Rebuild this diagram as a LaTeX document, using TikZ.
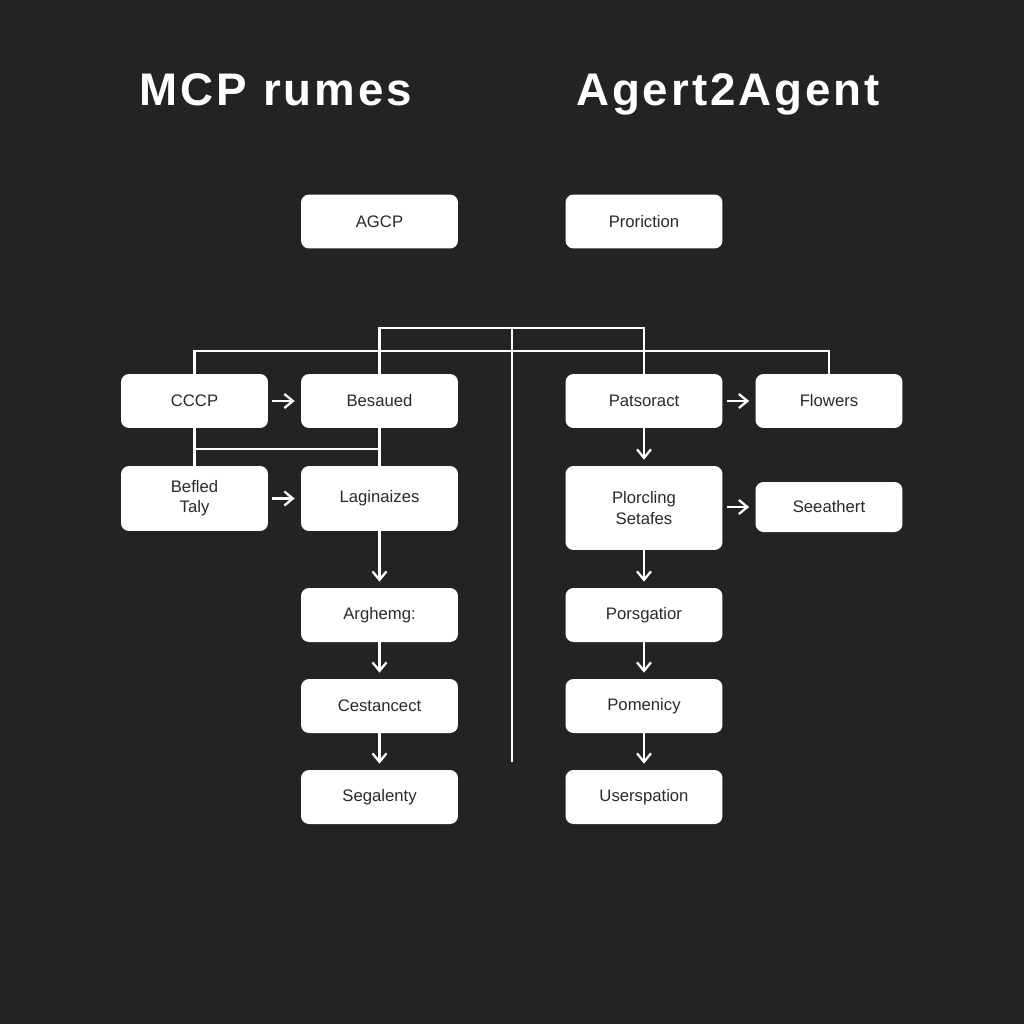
\documentclass[tikz,border=0pt]{standalone}
\usepackage{fontspec}
\setmainfont{Liberation Sans}
\usetikzlibrary{arrows.meta}

\definecolor{boardbg}{HTML}{232323}
\definecolor{boxtext}{HTML}{2A2A2A}

\tikzset{
  box/.style={draw=none,fill=white,rounded corners=1.6mm,text=boxtext,
    minimum width=3.14cm,minimum height=1.08cm,align=center,
    font=\fontsize{9.5}{11.5}\selectfont,inner sep=0pt},
  narrowbox/.style={box,minimum width=2.94cm},
  title/.style={anchor=base,text=white,
    font=\fontsize{26}{30}\selectfont\bfseries\addfontfeature{LetterSpace=6.5}},
  wire/.style={draw=white,line width=1.3pt},
  link/.style={wire,->,shorten >=1.2mm},
  sidelink/.style={link,shorten <=0.8mm},
}

\begin{document}
\begin{tikzpicture}[x=0.02cm,y=-0.02cm,>={Straight Barb[length=1.7mm,width=2.8mm]}]
    \useasboundingbox [fill=boardbg] (0,0) rectangle (1024,1024);

    \path (276,106) node [title] (mcptitle) {MCP rumes};
    \path (728,106) node [title] (a2atitle) {Agert2Agent};

    \path (379.5,221.5) node [box] (agcp) {AGCP};
    \path (644,221.5) node [box] (proriction) {Proriction};

    \path (194.5,401) node [narrowbox] (cccp) {CCCP};
    \path (379.5,401) node [box] (besaued) {Besaued};
    \path (194.5,498.5) node [narrowbox,minimum height=1.3cm] (befled) {Befled\\Taly};
    \path (379.5,498.5) node [box,minimum height=1.3cm] (laginaizes) {Laginaizes};
    \path (379.5,615) node [box] (arghemg) {Arghemg:};
    \path (379.5,706) node [box] (cestancect) {Cestancect};
    \path (379.5,797) node [box] (segalenty) {Segalenty};

    \path (644,401) node [box] (patsoract) {Patsoract};
    \path (829,401) node [narrowbox] (flowers) {Flowers};
    \path (644,508) node [box,minimum height=1.68cm] (plorcling) {Plorcling\\Setafes};
    \path (829,507) node [narrowbox,minimum height=1.0cm] (seeathert) {Seeathert};
    \path (644,615) node [box] (porsgatior) {Porsgatior};
    \path (644,706) node [box] (pomenicy) {Pomenicy};
    \path (644,797) node [box] (userspation) {Userspation};

    % centre spine and the two feeder lines
    \coordinate (hubtop) at (512,328);
    \coordinate (hubmid) at (512,351);
    \coordinate (hubend) at (512,762);
    \coordinate (junction) at (379.5,449);
    \draw [wire] (hubtop) -- (hubend);
    \draw [wire] (besaued.north) |- (hubtop) -| (patsoract.north);
    \draw [wire] (cccp.north) |- (hubmid) -| (flowers.north);
    \draw [wire] (cccp.south) -- (befled.north);
    \draw [wire] (besaued.south) -- (laginaizes.north);
    \draw [wire] (cccp.south |- junction) -- (junction);

    \draw [sidelink] (cccp) -- (besaued);
    \draw [sidelink] (befled) -- (laginaizes);
    \draw [sidelink] (patsoract) -- (flowers);
    \draw [sidelink] (plorcling.east |- seeathert) -- (seeathert);

    \draw [link] (laginaizes) -- (arghemg);
    \draw [link] (arghemg) -- (cestancect);
    \draw [link] (cestancect) -- (segalenty);
    \draw [link] (patsoract) -- (plorcling);
    \draw [link] (plorcling) -- (porsgatior);
    \draw [link] (porsgatior) -- (pomenicy);
    \draw [link] (pomenicy) -- (userspation);
\end{tikzpicture}
\end{document}
